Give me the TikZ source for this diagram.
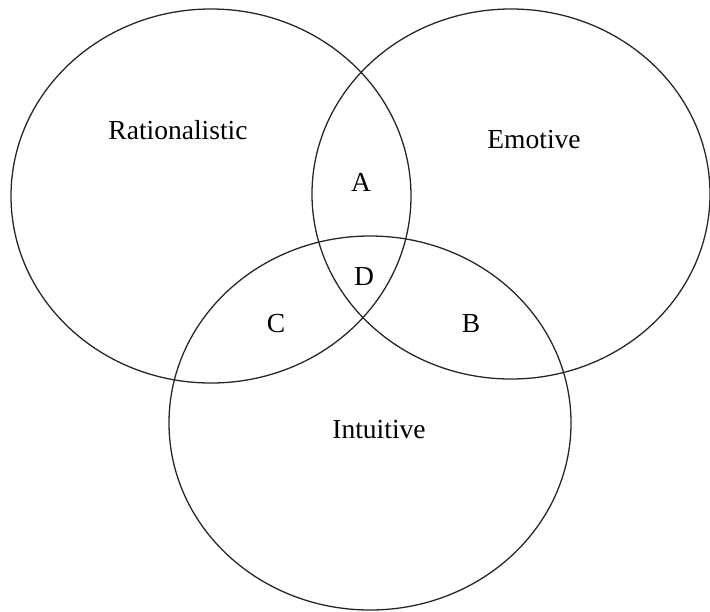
\documentclass[tikz,border=0pt]{standalone}
\usepackage{fontspec}
\setmainfont{Liberation Serif}
\usepackage{tikz}
\begin{document}
\begin{tikzpicture}[
        x=0.03cm, y=-0.03cm,
        set/.style={draw=black!85, line width=1.1pt},
        lbl/.style={font=\fontsize{23.5}{28}\selectfont, inner sep=0pt},
      ]
        \useasboundingbox (0,0) rectangle (710,611);

        % The three sets
        \draw[set] (211,196) ellipse [x radius=6cm, y radius=5.61cm];
        \draw[set] (511,194) ellipse [x radius=5.97cm, y radius=5.55cm];
        \draw[set] (370,423) ellipse [x radius=6.03cm, y radius=5.61cm];

        % Set names
        \node[lbl] (rat) at (178,130) {Rationalistic};
        \node[lbl] (emo) at (534,140) {Emotive};
        \node[lbl] (int) at (379,430) {Intuitive};

        % Overlaps
        \node[lbl] (a) at (361,182) {A};
        \node[lbl] (d) at (364,277) {D};
        \node[lbl] (c) at (276,324) {C};
        \node[lbl] (b) at (471,324) {B};
      \end{tikzpicture}
\end{document}
